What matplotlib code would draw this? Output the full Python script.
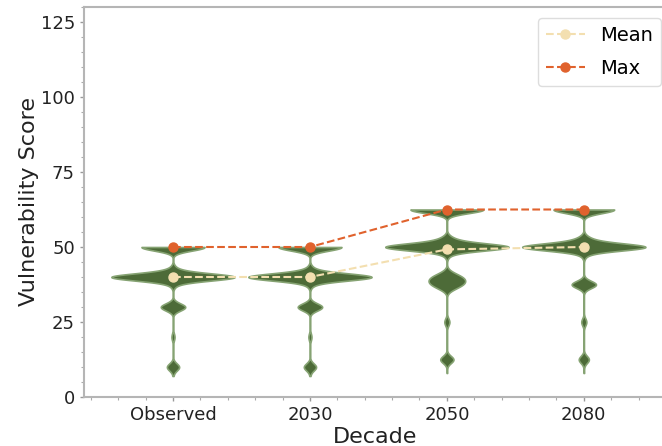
import numpy as np
import matplotlib
matplotlib.use("Agg")
import matplotlib.pyplot as plt
from matplotlib.ticker import MultipleLocator

categories = ["Observed", "2030", "2050", "2080"]

obs_levels = [7, 10, 20, 30, 37.5, 40, 42.5, 50]
obs_counts = [3, 60, 15, 120, 20, 600, 30, 310]
y2030_levels = [7, 10, 20, 30, 37.5, 40, 42.5, 50]
y2030_counts = [3, 60, 15, 120, 20, 600, 30, 310]
y2050_levels = [8, 12.5, 25, 36.25, 37.5, 38.75, 40, 41.25, 47.5, 50, 52.5, 62.5]
y2050_counts = [3, 65, 25, 40, 80, 80, 80, 30, 20, 600, 60, 360]
y2080_levels = [8, 12.5, 25, 37.5, 47.5, 50, 52.5, 62.5]
y2080_counts = [3, 50, 25, 120, 20, 600, 60, 300]

mean_vals = [40, 40, 49.2, 50]
max_vals = [50, 50, 62.5, 62.5]

levels = [obs_levels, y2030_levels, y2050_levels, y2080_levels]
counts = [obs_counts, y2030_counts, y2050_counts, y2080_counts]
samples = [np.repeat(np.array(l, float), c) for l, c in zip(levels, counts)]

BW = 1.2
def bw(kde):
    return BW / np.std(kde.dataset, ddof=1)

fig = plt.figure(figsize=(6.62, 4.46), dpi=100)
ax = fig.add_axes([84/662, 49/446, 1 - 84/662 + 0.006, 390/446])

pos = np.arange(len(categories))
vp = ax.violinplot(samples, positions=pos, widths=0.9, showextrema=False,
                   points=800, bw_method=bw)
for b in vp["bodies"]:
    b.set_facecolor("#4d6b38")
    b.set_edgecolor("#86a373")
    b.set_linewidth(1.2)
    b.set_alpha(1)

ax.plot(pos, mean_vals, linestyle="--", color="#f3dfb0", marker="o",
        markersize=6.5, linewidth=1.5, label="Mean", zorder=3)
ax.plot(pos, max_vals, linestyle="--", color="#e0622d", marker="o",
        markersize=6.5, linewidth=1.5, label="Max", zorder=3)

ax.set_xlim(-0.65, 3.6)
ax.set_ylim(0, 130)
ax.set_xticks(pos)
ax.set_xticklabels(categories)
ax.set_yticks([0, 25, 50, 75, 100, 125])
ax.yaxis.set_minor_locator(MultipleLocator(5))
ax.xaxis.set_minor_locator(MultipleLocator(0.2))
ax.tick_params(axis="both", which="major", labelsize=13, colors="#999999",
               labelcolor="#222222", length=3, width=1)
ax.tick_params(axis="both", which="minor", colors="#aaaaaa", length=2, width=0.8)
for s in ax.spines.values():
    s.set_color("#b5b5b5")
    s.set_linewidth(1.5)

ax.set_xlabel("Decade", fontsize=16, color="#222222", labelpad=2)
ax.set_ylabel("Vulnerability Score", fontsize=16, color="#222222", labelpad=1)

ax.legend(loc="upper right", bbox_to_anchor=(0.991, 0.972), fontsize=14,
          handlelength=2.0, labelspacing=0.75, borderaxespad=0.0,
          framealpha=1, edgecolor="#dddddd")

fig.savefig("out.png", dpi=100)
